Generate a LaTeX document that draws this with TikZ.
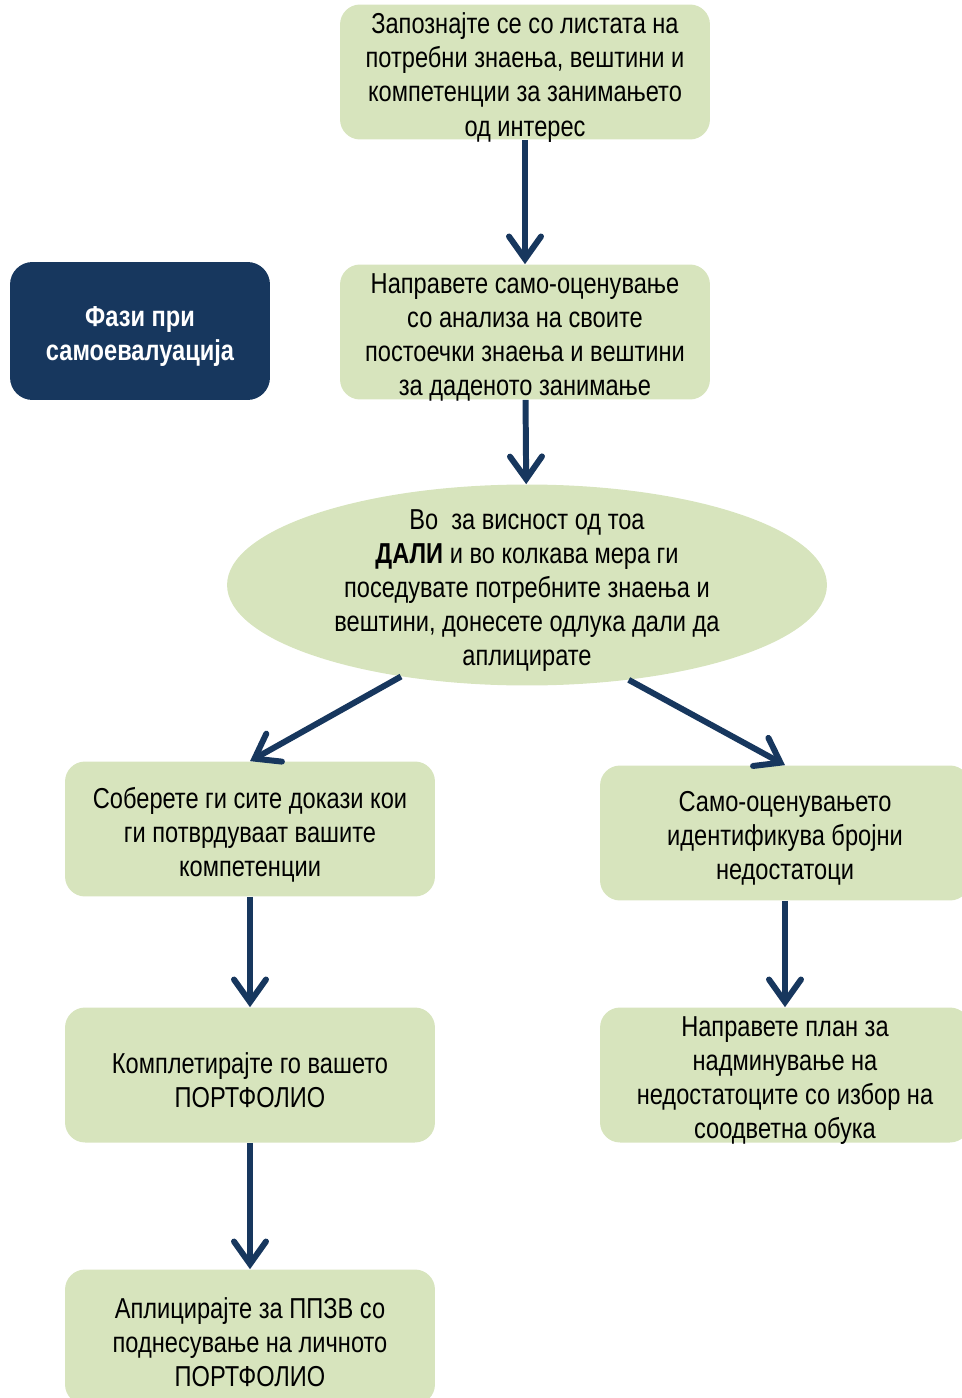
\documentclass[tikz,border=0pt]{standalone}
\usepackage{fontspec}
\setmainfont{Liberation Sans}[FakeStretch=0.82]
\usepackage{xcolor}
\usetikzlibrary{shapes.geometric,arrows.meta}

\definecolor{boxgreen}{HTML}{D7E4BD}
\definecolor{navy}{HTML}{17375E}

\tikzset{
	boxtext/.style={align=center, inner sep=0pt, yshift=-0.11cm, font=\fontsize{16.4}{19.4}\selectfont},
	stepbox/.style={rectangle, rounded corners=0.4cm, fill=boxgreen, minimum width=7.4cm, minimum height=2.7cm, label={[boxtext]center:#1}},
	flow/.style={navy, line width=3.4pt, -{Straight Barb[length=4.5mm,width=6.4mm,line cap=round]}}
}

\begin{document}
\begin{tikzpicture}[x=0.02cm, y=-0.02cm]
	\useasboundingbox (0,0) rectangle (962,1398);
	% Nodes
	\node[stepbox={Запознајте се со листата на\\потребни знаења, вештини и\\компетенции за занимањето\\од интерес}] (know) at (525,72) {};
	\node[stepbox={Направете само-оценување\\со анализа на своите\\постоечки знаења и вештини\\за даденото занимање}] (self) at (525,332) {};
	\node[rectangle, rounded corners=0.45cm, fill=navy, minimum width=5.2cm, minimum height=2.76cm, label={[boxtext, text=white, font={\fontsize{16.4}{19.4}\selectfont\bfseries}]center:Фази при\\самоевалуација}] (phase) at (140,331) {};
	\node[ellipse, fill=boxgreen, minimum width=12cm, minimum height=4.02cm, inner sep=0pt, label={[boxtext]center:Во \ за висност од тоа\\\textbf{ДАЛИ} и во колкава мера ги\\поседувате потребните знаења и\\вештини, донесете одлука дали да\\аплицирате}] (decide) at (527,585) {};
	\node[stepbox={Соберете ги сите докази кои\\ги потврдуваат вашите\\компетенции}] (proof) at (250,829) {};
	\node[stepbox={Само-оценувањето\\идентификува бројни\\недостатоци}] (gaps) at (785,833) {};
	\node[stepbox={Комплетирајте го вашето\\ПОРТФОЛИО}] (folio) at (250,1075) {};
	\node[stepbox={Направете план за\\надминување на\\недостатоците со избор на\\соодветна обука}] (plan) at (785,1075) {};
	\node[stepbox={Аплицирајте за ППЗВ со\\поднесување на личното\\ПОРТФОЛИО}] (apply) at (250,1337) {};
	
	% Edges
	\draw[flow] (know) -- (self);
	\draw[flow] (self) -- (decide);
	\draw[flow] (decide.216) -- (proof.north);
	\draw[flow] (decide.-43) -- (gaps.north);
	\draw[flow] (proof) -- (folio);
	\draw[flow] (gaps) -- (plan);
	\draw[flow] (folio) -- (apply);
	
\end{tikzpicture}
\end{document}
